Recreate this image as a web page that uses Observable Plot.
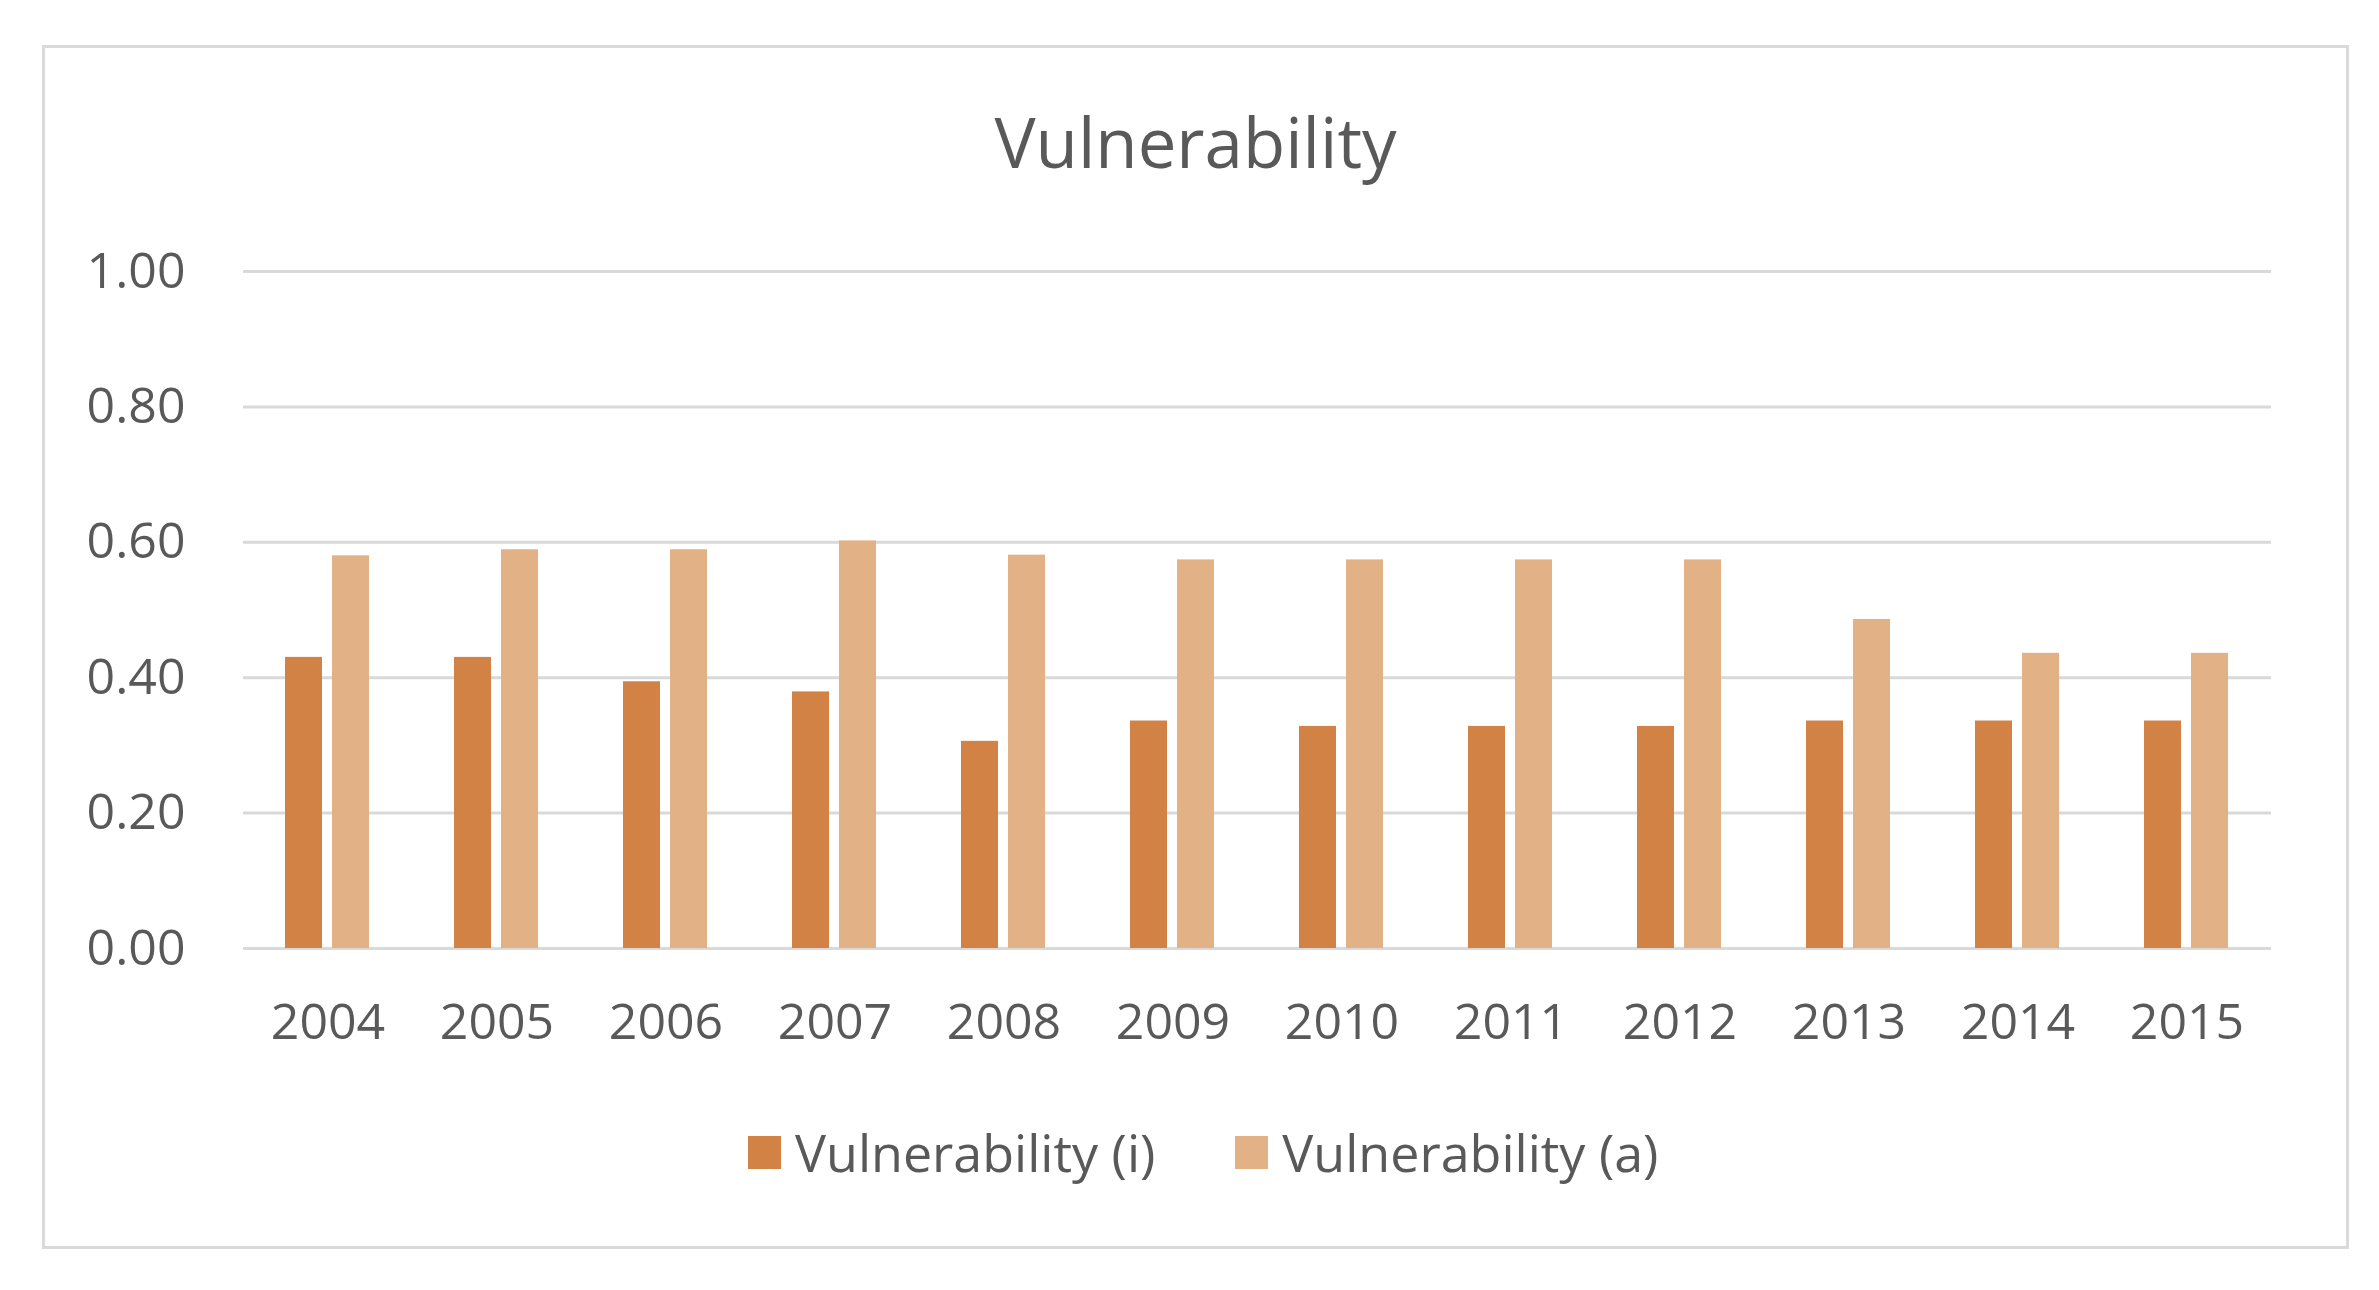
<!DOCTYPE html>
<html>
<head>
<meta charset="utf-8">
<script src="https://cdn.jsdelivr.net/npm/d3@7"></script>
<script src="https://cdn.jsdelivr.net/npm/@observablehq/plot@0.6"></script>
<style>
  html, body { margin: 0; padding: 0; background: #ffffff; }
  body { width: 2379px; height: 1290px; position: relative; overflow: hidden; font-family: "Open Sans", sans-serif; color: #595959; }
  #frame { position: absolute; left: 42px; top: 45px; width: 2307px; height: 1204px; box-sizing: border-box; border: 3px solid #dadada; }
  #title { position: absolute; left: 42px; width: 2307px; top: 107px; text-align: center; font-size: 69px; line-height: 1; color: #595959; }
  #chart { position: absolute; left: 0; top: 200px; }
  #legend { position: absolute; left: 748px; top: 1117px; height: 70px; display: flex; align-items: center; font-size: 52px; line-height: 1; color: #595959; }
  .item { display: flex; align-items: center; margin-right: 80px; }
  .sw { width: 33px; height: 33px; margin-right: 14px; }
</style>
</head>
<body>
<div id="frame"></div>
<div id="title"></div>
<div id="chart"></div>
<div id="legend"></div>
<script>
const title = "Vulnerability";
const years = ["2004","2005","2006","2007","2008","2009","2010","2011","2012","2013","2014","2015"];
const seriesNames = ["Vulnerability (i)", "Vulnerability (a)"];
const seriesColors = ["#d38246", "#e2b186"];
const vulnI = [0.430, 0.430, 0.394, 0.379, 0.306, 0.336, 0.328, 0.328, 0.328, 0.336, 0.336, 0.336];
const vulnA = [0.580, 0.589, 0.589, 0.602, 0.581, 0.574, 0.574, 0.574, 0.574, 0.486, 0.436, 0.436];
const yTicks = [0, 0.2, 0.4, 0.6, 0.8, 1.0];

const data = [];
years.forEach((yr, i) => {
  data.push({year: yr, series: seriesNames[0], value: vulnI[i]});
  data.push({year: yr, series: seriesNames[1], value: vulnA[i]});
});

document.getElementById("title").textContent = title;

const plot = Plot.plot({
  width: 2379,
  height: 888,
  marginLeft: 241,
  marginRight: 107,
  marginTop: 71,
  marginBottom: 140,
  style: {fontFamily: "'Open Sans', sans-serif", fontSize: "50px", color: "#595959", background: "transparent"},
  fx: {domain: years, padding: 0, label: null, tickSize: 0, tickPadding: 55, axis: "bottom"},
  x: {domain: seriesNames, axis: null, paddingInner: 0.208, paddingOuter: 0.865},
  y: {domain: [0, 1], ticks: yTicks, tickFormat: d3.format(".2f"), tickSize: 0, tickPadding: 58, label: null},
  color: {domain: seriesNames, range: seriesColors},
  marks: [
    Plot.gridY(yTicks, {stroke: "#d9d9d9", strokeOpacity: 1, strokeWidth: 3}),
    Plot.barY(data, {fx: "year", x: "series", y: "value", fill: "series"})
  ]
});
document.getElementById("chart").appendChild(plot);

const legend = document.getElementById("legend");
seriesNames.forEach((name, i) => {
  const item = document.createElement("div");
  item.className = "item";
  const sw = document.createElement("div");
  sw.className = "sw";
  sw.style.background = seriesColors[i];
  const label = document.createElement("span");
  label.textContent = name;
  item.appendChild(sw);
  item.appendChild(label);
  legend.appendChild(item);
});
</script>
</body>
</html>
